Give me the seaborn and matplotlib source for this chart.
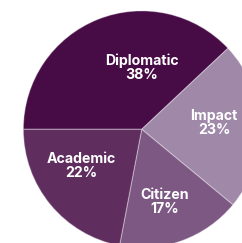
import seaborn as sns
import matplotlib.pyplot as plt

# slice data
categories = ['Diplomatic', 'Impact', 'Citizen', 'Academic']
shares = [38, 23, 17, 22]
colors = ['#470b45', '#a088a8', '#7c5883', '#5f2e5f']

# where each label sits, relative to the pie centre (radius = 1)
label_pos = {'Diplomatic': (0.0, 0.52), 'Impact': (0.61, 0.05),
             'Citizen': (0.19, -0.61), 'Academic': (-0.51, -0.31)}

sns.set_theme(style='white')
plt.rcParams['font.family'] = ['Inter', 'DejaVu Sans']

fig = plt.figure(figsize=(2.42, 2.43), dpi=100)
ax = fig.add_axes([0, 0, 1, 1])

wedges, texts = ax.pie(shares,
                       colors=sns.color_palette(colors),
                       startangle=180, counterclock=False,
                       wedgeprops=dict(edgecolor=(1, 1, 1, 0.35), linewidth=0.8))

# labels inside the slices
for name, val in zip(categories, shares):
    x, y = label_pos[name]
    ax.text(x, y, '{}\n{}%'.format(name, val), ha='center', va='center',
            color='white', fontsize=10.2, fontweight='bold', linespacing=1.0)

ax.set_aspect('auto')
ax.set_xlim(-1.197, 0.847)
ax.set_ylim(-0.960, 1.092)
ax.axis('off')

fig.savefig('out.png', dpi=100)
